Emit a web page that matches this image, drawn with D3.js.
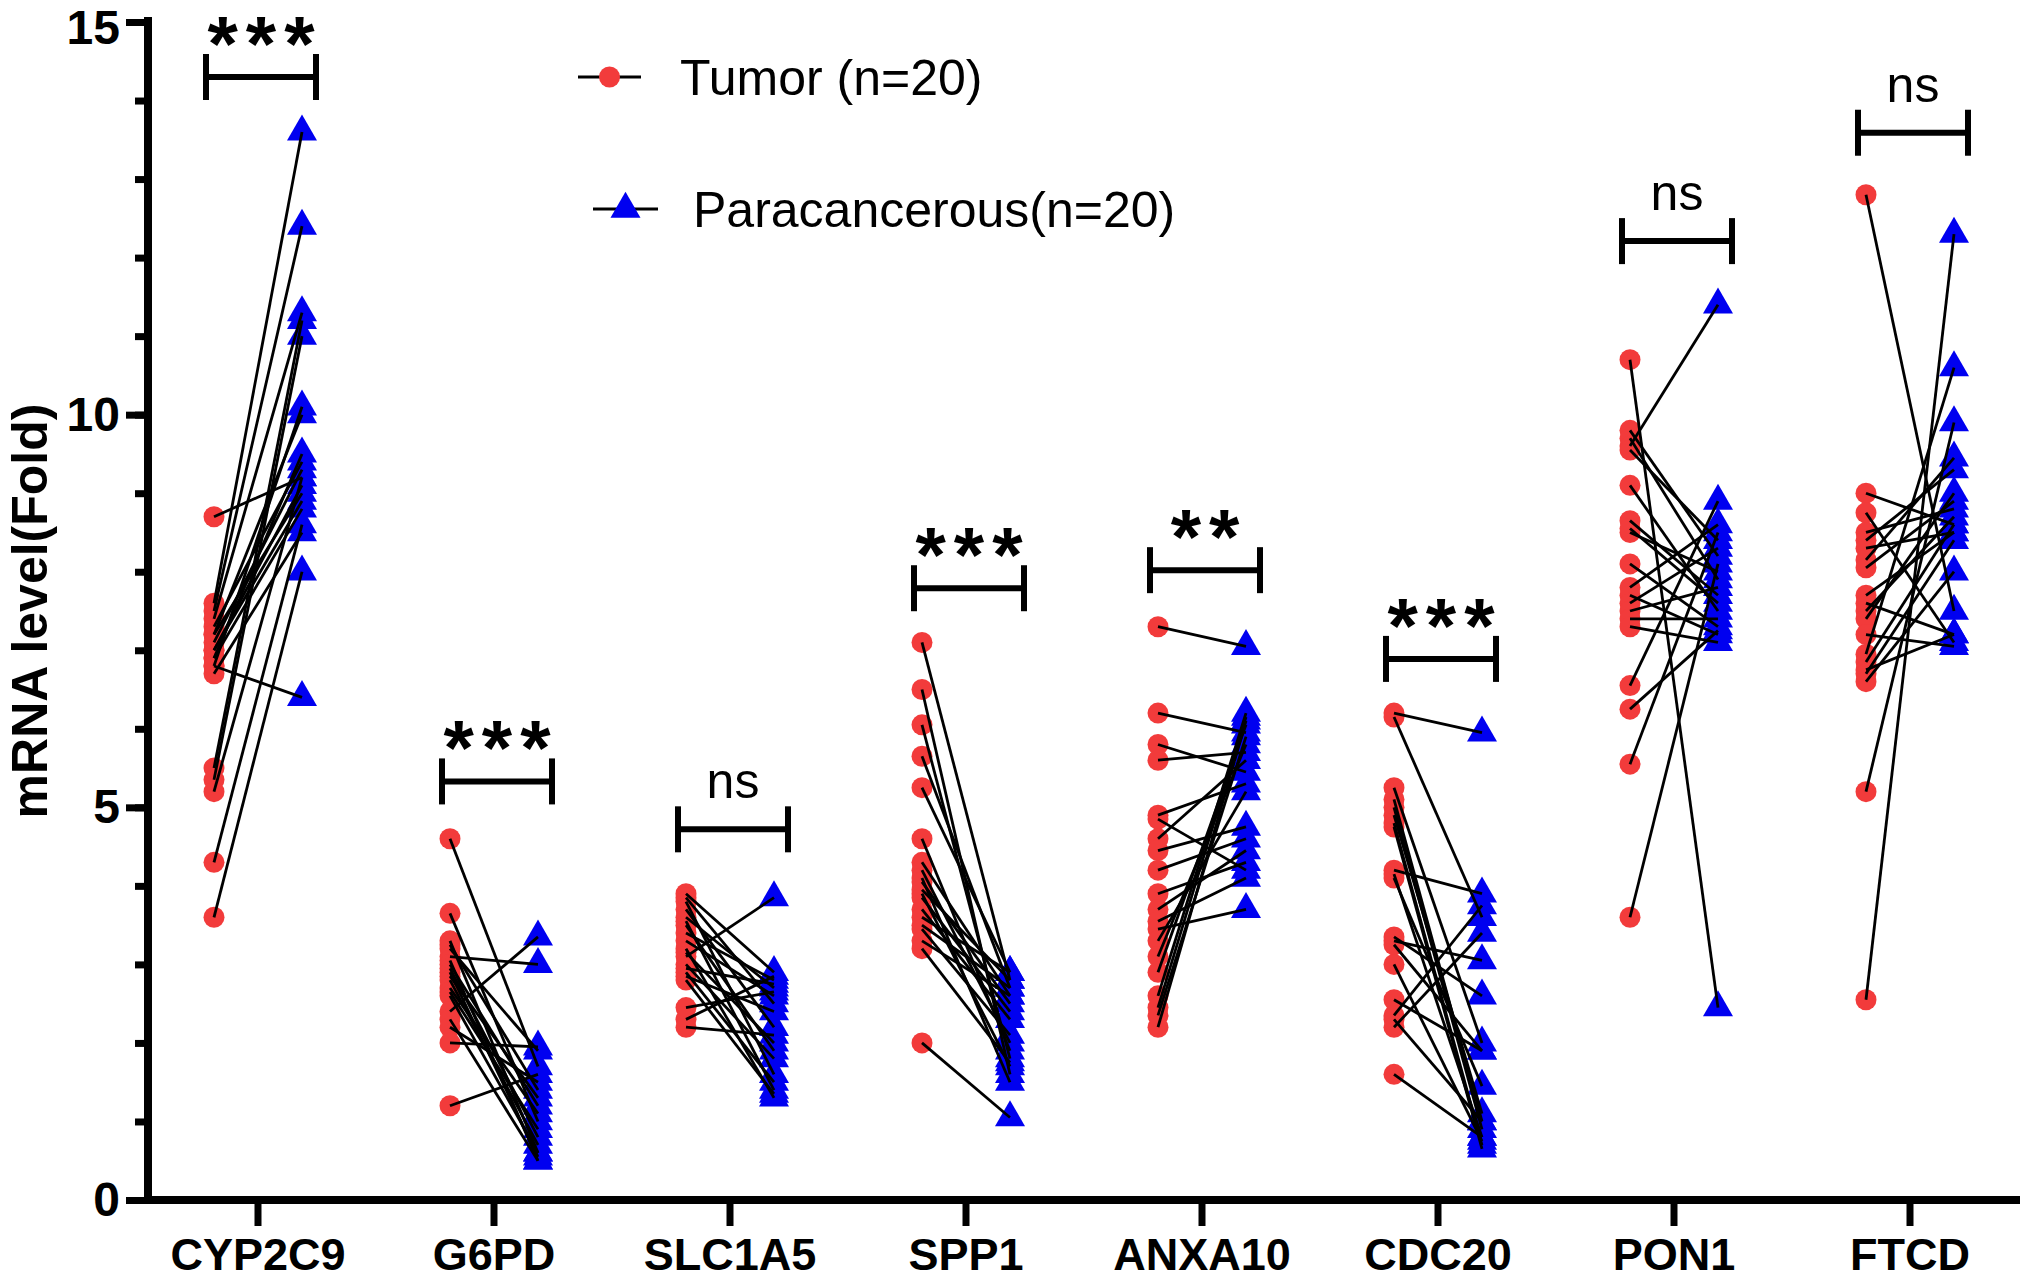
<!DOCTYPE html>
<html>
<head>
<meta charset="utf-8">
<script src="https://cdn.jsdelivr.net/npm/d3@7"></script>
<style>
  html, body { margin: 0; padding: 0; background: #fff; }
  svg { display: block; }
</style>
</head>
<body>
<svg id="chart" width="2024" height="1280"></svg>
<script>
// ---------------- data ----------------
const genes = ["CYP2C9", "G6PD", "SLC1A5", "SPP1", "ANXA10", "CDC20", "PON1", "FTCD"];
const groups = ["Tumor", "Paracancerous"];
const legendLabels = ["Tumor (n=20)", "Paracancerous(n=20)"];
const yTicks = [0, 5, 10, 15];

const tumorCYP2C9 = [8.7, 7.6, 7.5, 7.4, 7.3, 7.2, 7.2, 7.1, 7.0, 7.0, 6.9, 6.9, 6.8, 6.7, 6.8, 5.5, 5.35, 5.2, 4.3, 3.6];
const paraCYP2C9  = [9.2, 13.6, 12.4, 11.3, 9.4, 9.0, 10.0, 9.3, 9.1, 8.9, 9.5, 8.8, 10.1, 8.5, 6.4, 11.2, 11.0, 9.2, 8.6, 8.0];

const tumorG6PD = [4.6, 3.65, 3.3, 3.25, 3.2, 3.1, 3.05, 3.0, 2.95, 2.9, 2.85, 2.8, 2.7, 2.65, 2.6, 2.4, 2.3, 2.2, 2.0, 1.2];
const paraG6PD  = [1.7, 1.0, 0.6, 1.4, 1.9, 3.0, 0.5, 1.2, 0.8, 0.55, 1.3, 0.7, 1.1, 0.9, 0.6, 3.35, 0.5, 1.5, 1.95, 1.6];

const tumorSLC1A5 = [3.9, 3.85, 3.8, 3.7, 3.6, 3.55, 3.5, 3.4, 3.3, 3.2, 3.15, 3.1, 3.0, 2.95, 2.9, 2.85, 2.8, 2.45, 2.3, 2.2];
const paraSLC1A5  = [2.9, 2.5, 1.6, 2.2, 2.7, 1.4, 1.9, 2.8, 2.6, 1.3, 2.0, 3.85, 1.8, 2.75, 1.5, 2.4, 1.35, 2.65, 2.85, 2.1];

const tumorSPP1 = [7.1, 6.5, 6.05, 5.65, 5.25, 4.6, 4.3, 4.2, 4.1, 4.05, 3.95, 3.9, 3.85, 3.7, 3.6, 3.5, 3.45, 3.3, 3.2, 2.0];
const paraSPP1  = [2.8, 1.6, 1.8, 2.7, 2.9, 1.9, 2.6, 2.0, 1.5, 2.5, 2.8, 1.7, 2.4, 2.3, 2.9, 2.7, 2.1, 2.6, 1.75, 1.05];

const tumorANXA10 = [7.3, 6.2, 5.8, 5.6, 4.9, 4.85, 4.6, 4.45, 4.2, 3.9, 3.7, 3.55, 3.45, 3.3, 3.1, 2.9, 2.6, 2.45, 2.35, 2.2];
const paraANXA10  = [7.05, 5.95, 5.45, 5.7, 5.3, 4.2, 5.6, 4.75, 4.6, 4.3, 4.45, 4.1, 3.7, 5.2, 5.8, 6.05, 6.2, 6.15, 5.9, 6.1];

const tumorCDC20 = [6.2, 6.15, 5.25, 5.1, 5.0, 4.9, 4.8, 4.75, 4.2, 4.15, 4.1, 3.35, 3.3, 3.25, 3.0, 2.55, 2.35, 2.3, 2.2, 1.6];
const paraCDC20  = [5.95, 3.6, 2.0, 1.0, 0.9, 1.1, 0.7, 0.65, 3.9, 0.8, 1.45, 2.6, 3.05, 1.9, 0.75, 1.9, 3.75, 1.0, 3.4, 0.8];

const tumorPON1 = [10.7, 9.8, 9.7, 9.6, 9.55, 9.1, 8.65, 8.5, 8.1, 7.8, 7.7, 7.6, 7.5, 7.4, 7.3, 6.55, 6.25, 5.55, 3.6, 8.55];
const paraPON1  = [2.45, 8.2, 7.9, 11.4, 8.4, 7.5, 7.7, 8.0, 7.3, 8.6, 7.2, 8.3, 7.8, 7.4, 7.1, 8.9, 7.25, 8.5, 8.1, 7.6];

const tumorFTCD = [12.8, 9.0, 8.75, 8.5, 8.4, 8.3, 8.15, 8.05, 7.7, 7.6, 7.5, 7.4, 7.2, 6.95, 6.85, 6.75, 6.7, 6.6, 5.2, 2.55];
const paraFTCD  = [7.5, 8.6, 7.1, 8.8, 9.3, 8.5, 9.45, 8.9, 8.5, 7.2, 8.7, 9.0, 7.05, 10.6, 8.6, 7.2, 8.4, 8.0, 9.9, 12.3];

const tumorValues = [tumorCYP2C9, tumorG6PD, tumorSLC1A5, tumorSPP1, tumorANXA10, tumorCDC20, tumorPON1, tumorFTCD];
const paraValues  = [paraCYP2C9, paraG6PD, paraSLC1A5, paraSPP1, paraANXA10, paraCDC20, paraPON1, paraFTCD];

// significance brackets (level in data units) and labels
const bracketLevels = [14.3, 5.33, 4.72, 7.79, 8.02, 6.89, 12.21, 13.59];
const sigLabels = ["***", "***", "ns", "***", "**", "***", "ns", "ns"];

// ---------------- drawing ----------------
const svg = d3.select("#chart");
const axisX = 148, axisY = 1200;

const x = d3.scaleBand().domain(genes).range([140, 2028]).paddingInner(0).paddingOuter(0);
const sub = d3.scalePoint().domain(groups).range([-44, 44]);
const y = d3.scaleLinear().domain([0, 15]).range([1200, 22]);
const cx = g => x(g) + x.bandwidth() / 2;

const red = "#F23B3B", blue = "#0000F0";
const font = "Arial, 'Liberation Sans', Helvetica, sans-serif";

// y axis
const yAxisMajor = d3.axisLeft(y).tickValues(yTicks).tickSize(22).tickPadding(6).tickFormat(d3.format("d"));
const yAxisMinor = d3.axisLeft(y).tickValues(d3.range(0, 16)).tickSize(13).tickFormat("");
const gyMinor = svg.append("g").attr("transform", `translate(${axisX},0)`).call(yAxisMinor);
const gy = svg.append("g").attr("transform", `translate(${axisX},0)`).call(yAxisMajor);
[gy, gyMinor].forEach(g => {
  g.select(".domain").remove();
  g.selectAll(".tick line").attr("stroke", "#000").attr("stroke-width", 7);
});
gy.selectAll(".tick text").attr("font-family", font).attr("font-weight", "bold")
  .attr("font-size", 48).attr("fill", "#000")
  .attr("y", d => d === 15 ? 6 : 0);
svg.append("line").attr("x1", axisX).attr("x2", axisX).attr("y1", 17).attr("y2", axisY + 4)
  .attr("stroke", "#000").attr("stroke-width", 8);

// x axis
const gx = svg.append("g").attr("transform", `translate(0,${axisY})`)
  .call(d3.axisBottom(x).tickSize(26).tickPadding(12));
gx.select(".domain").remove();
gx.selectAll(".tick line").attr("stroke", "#000").attr("stroke-width", 7);
gx.selectAll(".tick text").attr("font-family", font).attr("font-weight", "bold")
  .attr("font-size", 45).attr("fill", "#000");
svg.append("line").attr("x1", axisX - 4).attr("x2", 2020).attr("y1", axisY).attr("y2", axisY)
  .attr("stroke", "#000").attr("stroke-width", 8);

// y title
svg.append("text")
  .attr("transform", `translate(47,${(y(0) + y(15)) / 2}) rotate(-90)`)
  .attr("text-anchor", "middle")
  .attr("font-family", font).attr("font-weight", "bold").attr("font-size", 50)
  .text("mRNA level(Fold)");

// points
const circleSym = d3.symbol().type(d3.symbolCircle).size(Math.PI * 10.5 * 10.5);
const triSym = d3.symbol().type(d3.symbolTriangle).size(390);

genes.forEach((g, gi) => {
  const G = svg.append("g");
  const t = tumorValues[gi], p = paraValues[gi];
  G.selectAll("path.t").data(t).join("path").attr("class", "t")
    .attr("d", circleSym)
    .attr("transform", d => `translate(${cx(g) + sub("Tumor")},${y(d)})`)
    .attr("fill", red);
  G.selectAll("path.p").data(p).join("path").attr("class", "p")
    .attr("d", triSym)
    .attr("transform", d => `translate(${cx(g) + sub("Paracancerous")},${y(d)})`)
    .attr("fill", blue);
  G.selectAll("line.pair").data(d3.range(t.length)).join("line").attr("class", "pair")
    .attr("x1", cx(g) + sub("Tumor")).attr("y1", i => y(t[i]))
    .attr("x2", cx(g) + sub("Paracancerous")).attr("y2", i => y(p[i]))
    .attr("stroke", "#000").attr("stroke-width", 2.8);
});

// brackets
genes.forEach((g, gi) => {
  const by = y(bracketLevels[gi]);
  const xl = cx(g) - 52, xr = cx(g) + 58;
  const B = svg.append("g").attr("stroke", "#000").attr("stroke-width", 6);
  B.append("line").attr("x1", xl).attr("x2", xr).attr("y1", by).attr("y2", by);
  B.append("line").attr("x1", xl).attr("x2", xl).attr("y1", by - 23).attr("y2", by + 23);
  B.append("line").attr("x1", xr).attr("x2", xr).attr("y1", by - 23).attr("y2", by + 23);
  const lab = sigLabels[gi];
  const isStar = lab.indexOf("*") >= 0;
  svg.append("text")
    .attr("x", (xl + xr) / 2 + (isStar ? 4 : 0))
    .attr("y", isStar ? by - 6 : by - 31)
    .attr("text-anchor", "middle")
    .attr("font-family", font)
    .attr("font-weight", isStar ? "bold" : "normal")
    .attr("font-size", isStar ? 78 : 50)
    .attr("letter-spacing", isStar ? 8 : 0)
    .text(lab);
});

// legend
const legendRows = [
  {lx1: 578, lx2: 641, y: 77, tx: 680, sym: circleSym, color: red},
  {lx1: 593, lx2: 658, y: 209, tx: 693, sym: triSym, color: blue}
];
legendRows.forEach((r, i) => {
  const L = svg.append("g");
  L.append("line").attr("x1", r.lx1).attr("x2", r.lx2).attr("y1", r.y).attr("y2", r.y)
    .attr("stroke", "#000").attr("stroke-width", 3);
  L.append("path").attr("d", r.sym).attr("transform", `translate(${(r.lx1 + r.lx2) / 2},${r.y})`)
    .attr("fill", r.color);
  L.append("text").attr("x", r.tx).attr("y", r.y + 18)
    .attr("font-family", font).attr("font-size", 50).text(legendLabels[i]);
});
</script>
</body>
</html>
